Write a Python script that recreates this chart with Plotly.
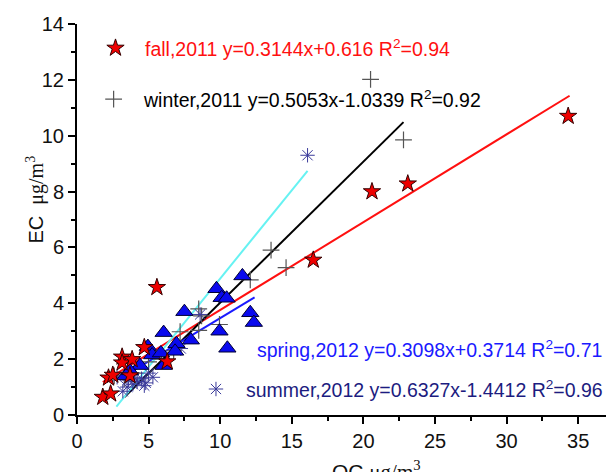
import plotly.graph_objects as go

# ---- data ----
fall_x = [1.8, 2.35, 2.2, 2.5, 3.15, 3.15, 3.85, 3.7, 5.58, 6.3, 4.7, 16.5, 20.6, 23.1, 34.3]
fall_y = [0.64, 0.76, 1.33, 1.43, 2.08, 1.87, 1.99, 1.41, 4.57, 1.91, 2.42, 5.55, 8.0, 8.28, 10.7]

winter_x = [20.5, 22.8, 13.55, 14.6, 12.1, 8.5, 8.7, 8.5, 9.95, 7.2, 6.75, 3.3, 4.0, 5.0, 5.9, 2.6]
winter_y = [12.02, 9.85, 5.9, 5.28, 4.84, 3.8, 3.55, 3.03, 3.24, 2.98, 2.3, 1.3, 1.5, 1.9, 2.0, 1.4]

spring_x = [11.55, 9.74, 10.1, 10.45, 7.5, 12.1, 12.35, 9.95, 10.5, 6.05, 7.95, 6.95, 6.85,
            4.95, 5.25, 4.4, 6.05, 3.38, 3.7, 5.86]
spring_y = [4.98, 4.52, 4.2, 4.18, 3.7, 3.66, 3.31, 3.0, 2.39, 2.95, 2.68, 2.55, 2.28,
            2.45, 2.15, 1.77, 1.77, 1.4, 1.58, 2.22]

summer_x = [16.1, 8.6, 7.25, 3.2, 3.5, 3.9, 4.2, 4.5, 4.8, 5.0, 5.3, 4.0, 3.6, 4.7, 2.8]
summer_y = [9.3, 3.6, 2.38, 0.85, 1.0, 1.1, 1.2, 1.3, 1.15, 1.5, 1.35, 1.35, 1.25, 1.05, 1.35]

# regression lines: slope, intercept, x-extent
fits = {
    "fall": (0.3144, 0.616, 1.8, 34.4, "#ff1010"),
    "winter": (0.5053, -1.0339, 3.3, 22.8, "#000000"),
    "spring": (0.3098, 0.3714, 3.2, 12.4, "#1a1aff"),
    "summer": (0.6327, -1.4412, 2.75, 16.1, "#66f2f2"),
}

legend_text = {
    "fall": "fall,2011 y=0.3144x+0.616 R<sup>2</sup>=0.94",
    "winter": "winter,2011 y=0.5053x-1.0339 R<sup>2</sup>=0.92",
    "spring": "spring,2012 y=0.3098x+0.3714 R<sup>2</sup>=0.71",
    "summer": "summer,2012 y=0.6327x-1.4412 R<sup>2</sup>=0.96",
}

STAR = dict(symbol="star", size=13, color="#ee0000", line=dict(color="#330000", width=1))
CROSS = dict(symbol="cross-thin-open", size=12, color="#555555", line=dict(color="#555555", width=1.2))
ASTER = dict(symbol="asterisk-open", size=12, color="#3a3a9a", line=dict(color="#3a3a9a", width=1))
TRI = dict(symbol="triangle-up", size=15, color="#0a0aee", line=dict(color="#000033", width=1))

fig = go.Figure()

# fit lines
for k, (a, b, x0, x1, c) in fits.items():
    fig.add_trace(go.Scatter(x=[x0, x1], y=[a * x0 + b, a * x1 + b], mode="lines",
                             line=dict(color=c, width=2), showlegend=False, hoverinfo="skip"))

# scatter points
fig.add_trace(go.Scatter(x=winter_x, y=winter_y, mode="markers", marker=CROSS, showlegend=False))
fig.add_trace(go.Scatter(x=summer_x, y=summer_y, mode="markers", marker=ASTER, showlegend=False))
fig.add_trace(go.Scatter(x=spring_x, y=spring_y, mode="markers", marker=TRI, showlegend=False))
fig.add_trace(go.Scatter(x=fall_x, y=fall_y, mode="markers", marker=STAR, showlegend=False))

# legend keys on an overlay axis in [0,1]
fig.add_trace(go.Scatter(x=[0.0717], y=[0.9386], xaxis="x2", yaxis="y2", mode="markers",
                         marker=STAR, showlegend=False))
fig.add_trace(go.Scatter(x=[0.0682], y=[0.808], xaxis="x2", yaxis="y2", mode="markers",
                         marker=CROSS, showlegend=False))
fig.add_trace(go.Scatter(x=[0.2588], y=[0.0665], xaxis="x2", yaxis="y2", mode="markers",
                         marker=ASTER, showlegend=False))

ann_font = "Liberation Sans, Arial, sans-serif"
annotations = [
    dict(x=0.1229, y=0.9386, text=legend_text["fall"], font=dict(color="#ff1010", size=19.5, family=ann_font)),
    dict(x=0.1192, y=0.808, text=legend_text["winter"], font=dict(color="#000000", size=19.5, family=ann_font)),
    dict(x=0.3315, y=0.1688, text=legend_text["spring"], font=dict(color="#1a1aff", size=19.5, family=ann_font)),
    dict(x=0.311, y=0.0665, text=legend_text["summer"], font=dict(color="#1c1c80", size=19.5, family=ann_font)),
]
for a in annotations:
    a.update(xref="paper", yref="paper", xanchor="left", yanchor="middle", showarrow=False)

# axis titles
annotations.append(dict(
    xref="paper", yref="paper", x=-0.077, y=0.55, textangle=-90, showarrow=False,
    xanchor="center", yanchor="middle",
    text="EC  <span style='font-family:Liberation Serif, Times New Roman, serif'>μg/m<sup>3</sup></span>",
    font=dict(size=20, color="#111111", family=ann_font)))
annotations.append(dict(
    xref="paper", yref="paper", x=0.558, y=-0.103, showarrow=False,
    xanchor="center", yanchor="top",
    text="OC <span style='font-family:Liberation Serif, Times New Roman, serif'>μg/m<sup>3</sup></span>",
    font=dict(size=21, color="#111111", family=ann_font)))

axis_common = dict(
    showgrid=False, zeroline=False, showline=True, linecolor="#000000", linewidth=2,
    ticks="outside", ticklen=7, tickwidth=2, tickcolor="#000000",
    tickfont=dict(size=20, color="#111111", family=ann_font),
)

# the page body has an 8px margin, so the figure is 8px smaller and margins compensate
fig.update_layout(
    width=606, height=464,
    margin=dict(l=69, r=0, t=16, b=57),
    plot_bgcolor="white", paper_bgcolor="white",
    xaxis=dict(range=[0, 37.5], dtick=5, tick0=0,
               minor=dict(dtick=2.5, ticks="outside", ticklen=4, tickwidth=2, tickcolor="#000000"),
               **axis_common),
    yaxis=dict(range=[0, 14], dtick=2, tick0=0,
               minor=dict(dtick=1, ticks="outside", ticklen=4, tickwidth=2, tickcolor="#000000"),
               **axis_common),
    xaxis2=dict(overlaying="x", range=[0, 1], visible=False),
    yaxis2=dict(overlaying="y", range=[0, 1], visible=False),
    annotations=annotations,
)

fig.write_html("out.html")
